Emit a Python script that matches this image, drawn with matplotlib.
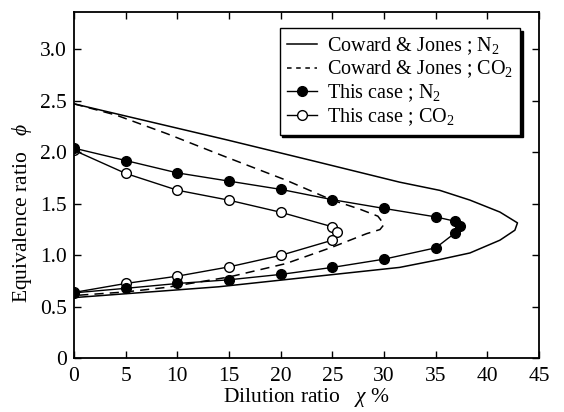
import matplotlib
matplotlib.use('Agg')
import matplotlib.pyplot as plt
from matplotlib.lines import Line2D

# font settings (Times-like serif)
plt.rcParams['font.family'] = ['Liberation Serif', 'DejaVu Serif']
plt.rcParams['mathtext.fontset'] = 'custom'
plt.rcParams['mathtext.rm'] = 'Liberation Serif'
plt.rcParams['mathtext.it'] = 'Liberation Serif:italic'

# Coward & Jones ; N2 (solid)
cj_n2_x = [0, 14.8, 23.4, 31.5, 35.4, 38.3, 41.2, 42.9, 42.65, 41.2, 38.3, 35.4, 31.5, 14.0, 0]
cj_n2_phi = [2.47, 2.12, 1.91, 1.71, 1.63, 1.536, 1.42, 1.315, 1.244, 1.147, 1.023, 0.96, 0.883, 0.695, 0.59]

# Coward & Jones ; CO2 (dashed)
cj_co2_x = [0, 4.1, 9.0, 14.3, 20.5, 25.0, 27.6, 29.4, 30.0, 29.6, 28.3, 25.0, 20.5, 15.0, 9.0, 5.0, 0]
cj_co2_phi = [2.47, 2.36, 2.18, 1.97, 1.73, 1.535, 1.45, 1.38, 1.30, 1.25, 1.21, 1.08, 0.92, 0.79, 0.69, 0.645, 0.61]

# This case ; N2 (filled circles)
tc_n2_x = [0, 5, 10, 15, 20, 25, 30, 35, 36.9, 37.3, 36.9, 35, 30, 25, 20, 15, 10, 5, 0]
tc_n2_phi = [2.04, 1.92, 1.80, 1.72, 1.64, 1.54, 1.455, 1.373, 1.33, 1.285, 1.22, 1.073, 0.963, 0.883, 0.815, 0.763, 0.727, 0.68, 0.636]

# This case ; CO2 (open circles)
tc_co2_x = [0, 5, 10, 15, 20, 25, 25.4, 25, 20, 15, 10, 5, 0]
tc_co2_phi = [2.02, 1.795, 1.632, 1.535, 1.418, 1.277, 1.222, 1.147, 1.0, 0.888, 0.798, 0.727, 0.64]

x_ticks = [0, 5, 10, 15, 20, 25, 30, 35, 40, 45]
y_ticks = [0, 0.5, 1.0, 1.5, 2.0, 2.5, 3.0]
y_ticklabels = ['0', '0.5', '1.0', '1.5', '2.0', '2.5', '3.0']

fig = plt.figure(figsize=(5.64, 4.12), dpi=100)
ax = fig.add_axes([0.131, 0.130, 0.825, 0.842])

ax.plot(cj_n2_x, cj_n2_phi, color='black', lw=1.1)
ax.plot(cj_co2_x, cj_co2_phi, color='black', lw=1.1, dashes=(6, 4))
ax.plot(tc_co2_x, tc_co2_phi, color='black', lw=1.0, marker='o', ms=7,
        mfc='white', mec='black', mew=1.0)
ax.plot(tc_n2_x, tc_n2_phi, color='black', lw=1.0, marker='o', ms=7,
        mfc='black', mec='black')

ax.set_xlim(0, 45)
ax.set_ylim(0, 3.365)
ax.set_xticks(x_ticks)
ax.set_xticklabels([str(v) for v in x_ticks])
ax.set_yticks(y_ticks)
ax.set_yticklabels(y_ticklabels)
ax.tick_params(direction='in', top=True, right=True, length=5, width=1,
               labelsize=15.5, colors='black')
ax.tick_params(axis='x', pad=6)
ax.tick_params(axis='y', pad=5)
for s in ax.spines.values():
    s.set_linewidth(1.3)

ax.set_xlabel('Dilution ratio   $\\chi$ %', fontsize=15.5, labelpad=0)
ax.set_ylabel('Equivalence ratio   $\\phi$', fontsize=15.5)
ax.yaxis.set_label_coords(-0.085, 0.42)

handles = [
    Line2D([], [], color='black', lw=1.1),
    Line2D([], [], color='black', lw=1.1, dashes=(3, 3)),
    Line2D([], [], color='black', lw=1.0, marker='o', ms=7, mfc='black'),
    Line2D([], [], color='black', lw=1.0, marker='o', ms=7, mfc='white', mew=1.0),
]
labels = ['Coward & Jones ; N$_2$', 'Coward & Jones ; CO$_2$',
          'This case ; N$_2$', 'This case ; CO$_2$']
leg = ax.legend(handles, labels, loc='upper right', bbox_to_anchor=(0.959, 0.952),
                borderaxespad=0, fontsize=14.5, handlelength=1.5, handletextpad=0.5,
                labelspacing=0.1, borderpad=0.35, fancybox=False,
                framealpha=1, edgecolor='black',
                shadow={'color': 'black', 'alpha': 1, 'ox': 2, 'oy': -2})
leg.get_frame().set_linewidth(1.0)

fig.savefig('out.png', dpi=100)
